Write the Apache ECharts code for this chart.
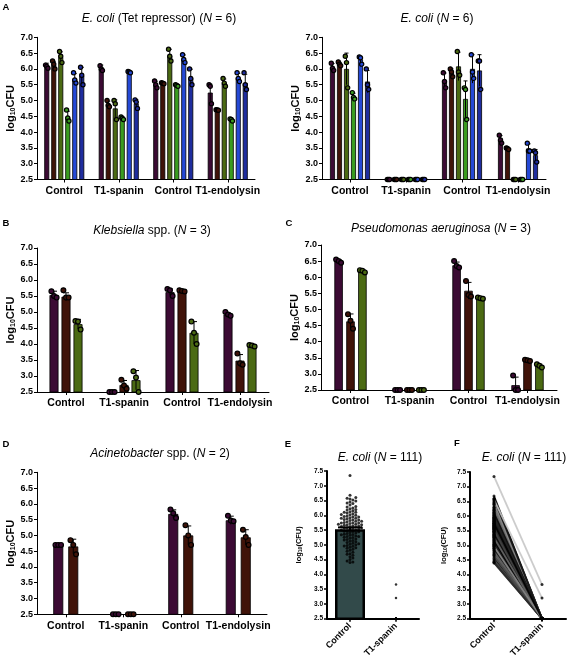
<!DOCTYPE html>
<html><head><meta charset="utf-8">
<script src="https://cdn.jsdelivr.net/npm/echarts@6/dist/echarts.min.js"></script>
<style>html,body{margin:0;padding:0;background:#fff}#c{width:571px;height:660px}</style>
</head><body><div id="c"></div><script>
// ---------------- DATA ----------------
const categories = ['Control', 'T1-spanin', 'Control', 'T1-endolysin'];
const ecoliCategories = ['Control', 'T1-spanin'];

// Panel A (left): E. coli (Tet repressor), 6 strains x 4 groups
const aTetMeans = [
  [6.10, 6.02, 5.50, 5.25],
  [6.12, 4.88, 5.55, 4.70],
  [6.37, 4.75, 6.42, 5.55],
  [4.48, 4.44, 5.48, 4.40],
  [5.68, 5.90, 6.30, 5.72],
  [5.78, 4.90, 5.72, 5.55]
];
const aTetSD = [
  [0.08, 0.10, 0.11, 0.27],
  [0.12, 0.10, 0.02, 0.02],
  [0.17, 0.27, 0.20, 0.13],
  [0.18, 0.04, 0.03, 0.04],
  [0.17, 0.03, 0.14, 0.14],
  [0.27, 0.13, 0.27, 0.28]
];
const aTetReps = [
  [[6.12, 6.08, 6.02], [6.10, 6.00, 5.95], [5.62, 5.50, 5.40], [5.50, 5.45, 4.90]],
  [[6.25, 6.15, 6.00], [5.00, 4.85, 4.80], [5.56, 5.55, 5.53], [4.71, 4.70, 4.69]],
  [[6.55, 6.40, 6.20], [5.00, 4.90, 4.40], [6.62, 6.40, 6.25], [5.70, 5.55, 5.45]],
  [[4.70, 4.45, 4.35], [4.48, 4.44, 4.40], [5.50, 5.48, 5.45], [4.42, 4.40, 4.35]],
  [[5.88, 5.65, 5.55], [5.92, 5.90, 5.88], [6.45, 6.30, 6.20], [5.88, 5.70, 5.60]],
  [[6.05, 5.80, 5.50], [5.02, 4.95, 4.75], [6.00, 5.70, 5.50], [5.88, 5.50, 5.35]]
];

// Panel A (right): E. coli, 6 strains
const aEcoMeans = [
  [6.05, 2.5, 5.62, 3.76],
  [6.15, 2.5, 5.88, 3.48],
  [6.00, 2.5, 6.08, 2.5],
  [5.13, 2.5, 5.05, 2.5],
  [6.30, 2.5, 6.00, 3.48],
  [5.60, 2.5, 5.95, 3.27]
];
const aEcoSD = [
  [0.12, 0, 0.25, 0.13],
  [0.06, 0, 0.12, 0.03],
  [0.50, 0, 0.45, 0],
  [0.10, 0, 0.57, 0],
  [0.10, 0, 0.45, 0.15],
  [0.35, 0, 0.50, 0.18]
];
const aEcoReps = [
  [[6.18, 6.02, 5.95], [2.5, 2.5, 2.5], [5.88, 5.60, 5.40], [3.90, 3.75, 3.65]],
  [[6.22, 6.15, 6.10], [2.5, 2.5, 2.5], [6.00, 5.90, 5.75], [3.50, 3.48, 3.45]],
  [[6.40, 6.20, 5.40], [2.5, 2.5, 2.5], [6.55, 5.90, 5.80], [2.5, 2.5, 2.5]],
  [[5.25, 5.10, 5.05], [2.5, 2.5, 2.5], [5.40, 5.35, 4.40], [2.5, 2.5, 2.5]],
  [[6.38, 6.35, 6.15], [2.5, 2.5, 2.5], [6.45, 5.90, 5.70], [3.65, 3.40, 3.40]],
  [[6.00, 5.50, 5.35], [2.5, 2.5, 2.5], [6.25, 6.25, 5.35], [3.40, 3.35, 3.05]]
];

// Panel B: Klebsiella spp.
const klebMeans = [
  [5.53, 2.5, 5.62, 4.92],
  [5.48, 2.72, 5.66, 3.48],
  [4.62, 2.87, 4.35, 3.95]
];
const klebSD = [
  [0.12, 0, 0.10, 0.05],
  [0.12, 0.14, 0.02, 0.19],
  [0.15, 0.30, 0.35, 0.03]
];
const klebReps = [
  [[5.65, 5.50, 5.45], [2.5, 2.5, 2.5], [5.72, 5.68, 5.50], [5.00, 4.92, 4.88]],
  [[5.68, 5.45, 5.45], [2.88, 2.70, 2.60], [5.68, 5.66, 5.64], [3.70, 3.40, 3.35]],
  [[4.72, 4.70, 4.45], [3.15, 2.95, 2.50], [4.70, 4.35, 4.00], [3.97, 3.95, 3.92]]
];

// Panel C: Pseudomonas aeruginosa
const pseudoMeans = [
  [6.50, 2.5, 6.37, 2.65],
  [4.63, 2.5, 5.58, 3.42],
  [6.20, 2.5, 5.35, 3.25]
];
const pseudoSD = [
  [0.05, 0, 0.10, 0.25],
  [0.23, 0, 0.26, 0.02],
  [0.04, 0, 0.02, 0.05]
];
const pseudoReps = [
  [[6.55, 6.50, 6.45], [2.5, 2.5, 2.5], [6.50, 6.35, 6.30], [2.95, 2.50, 2.50]],
  [[4.85, 4.65, 4.40], [2.5, 2.5, 2.5], [5.88, 5.45, 5.40], [3.44, 3.42, 3.40]],
  [[6.22, 6.20, 6.15], [2.5, 2.5, 2.5], [5.37, 5.35, 5.33], [3.30, 3.25, 3.20]]
];

// Panel D: Acinetobacter spp.
const acinMeans = [
  [4.70, 2.5, 5.68, 5.48],
  [4.65, 2.5, 5.00, 4.94]
];
const acinSD = [
  [0.01, 0, 0.13, 0.13],
  [0.23, 0, 0.30, 0.24]
];
const acinReps = [
  [[4.70, 4.70, 4.70], [2.5, 2.5, 2.5], [5.82, 5.70, 5.55], [5.62, 5.47, 5.45]],
  [[4.85, 4.70, 4.40], [2.5, 2.5, 2.5], [5.32, 5.00, 4.70], [5.18, 4.95, 4.70]]
];

// Panels E/F: E. coli isolates (N = 111), paired control / T1-spanin
const eControl = [
  5.62, 4.95, 6.10, 5.35, 7.35, 5.80, 4.70, 5.50, 6.25, 5.05,
  5.72, 5.28, 4.45, 6.02, 5.90, 5.15, 6.40, 5.55, 4.88, 5.68,
  5.40, 6.55, 5.85, 5.00, 6.18, 5.45, 4.60, 5.75, 5.95, 5.22,
  6.68, 5.58, 4.82, 5.30, 6.05, 5.65, 5.12, 5.88, 4.40, 5.48,
  6.30, 5.78, 5.18, 4.92, 5.60, 6.12, 5.38, 4.75, 5.82, 6.48,
  5.25, 5.52, 6.00, 4.55, 5.70, 5.92, 5.08, 6.35, 5.42, 4.98,
  5.62, 6.20, 5.32, 4.85, 5.76, 6.58, 5.02, 5.56, 5.98, 4.68,
  5.46, 6.08, 5.86, 5.20, 4.50, 5.66, 6.42, 5.36, 5.10, 5.74,
  6.15, 4.90, 5.54, 5.94, 6.52, 5.28, 4.78, 5.84, 5.64, 6.28,
  5.44, 5.04, 6.03, 5.70, 4.65, 5.90, 6.22, 5.34, 5.58, 6.45,
  5.16, 5.80, 4.42, 6.10, 5.50, 5.96, 5.26, 6.60, 5.68, 4.96,
  5.74
];
const eSpanin = [
  2.5, 2.5, 2.5, 2.5, 3.66, 2.5, 2.5, 2.5, 2.5, 2.5,
  2.5, 2.5, 2.5, 2.5, 2.5, 2.5, 2.5, 2.5, 2.5, 2.5,
  2.5, 3.20, 2.5, 2.5, 2.5, 2.5, 2.5, 2.5, 2.5, 2.5,
  2.5, 2.5, 2.5, 2.5, 2.5, 2.5, 2.5, 2.5, 2.5, 2.5,
  2.5, 2.5, 2.5, 2.5, 2.5, 2.5, 2.5, 2.5, 2.5, 2.5,
  2.5, 2.5, 2.5, 2.5, 2.5, 2.5, 2.5, 2.5, 2.5, 2.5,
  2.5, 2.5, 2.5, 2.5, 2.5, 2.5, 2.5, 2.5, 2.5, 2.5,
  2.5, 2.5, 2.5, 2.5, 2.5, 2.5, 2.5, 2.5, 2.5, 2.5,
  2.5, 2.5, 2.5, 2.5, 2.5, 2.5, 2.5, 2.5, 2.5, 2.5,
  2.5, 2.5, 2.5, 2.5, 2.5, 2.5, 2.5, 2.5, 2.5, 2.5,
  2.5, 2.5, 2.5, 2.5, 2.5, 2.5, 2.5, 2.5, 2.5, 2.5,
  2.5
];
const eBarMeans = [5.53, 2.52];
const eBarSEM = [0.06, 0];

// ---------------- STYLE / LAYOUT ----------------
const FONT = '"Liberation Sans", Arial, sans-serif';
const strainColors = ['#3c0b34', '#401309', '#4b6a13', '#3a9c20', '#2549d6', '#1f2d9e'];

const panels = [
  {means: aTetMeans, sds: aTetSD, reps: aTetReps, grid: {left: 37, top: 37.3, width: 218, height: 142.2}, barW: 5, gap: 2, dotR: 2.1, dotDx: 1.2, capW: 4, nameGap: 20},
  {means: aEcoMeans, sds: aEcoSD, reps: aEcoReps, grid: {left: 322, top: 37.3, width: 224, height: 142.2}, barW: 5, gap: 2, dotR: 2.1, dotDx: 1.2, capW: 4, nameGap: 20},
  {means: klebMeans, sds: klebSD, reps: klebReps, grid: {left: 37, top: 248, width: 232, height: 144}, barW: 9, gap: 3, dotR: 2.4, dotDx: 2.6, capW: 6, nameGap: 20},
  {means: pseudoMeans, sds: pseudoSD, reps: pseudoReps, grid: {left: 321, top: 245, width: 236, height: 145}, barW: 8.5, gap: 3.4, dotR: 2.4, dotDx: 2.5, capW: 6, nameGap: 20},
  {means: acinMeans, sds: acinSD, reps: acinReps, grid: {left: 37, top: 472.3, width: 230, height: 142}, barW: 10, gap: 5, dotR: 2.4, dotDx: 2.8, capW: 6, nameGap: 20}
];

const grids = [], xAxes = [], yAxes = [], series = [];

const logName = '{b|log}{s|10}{b|CFU}';
function yAxisAD(gi, nameGap) {
  return {
    gridIndex: gi, type: 'value', min: 2.5, max: 7, interval: 0.5,
    axisLine: {show: true, lineStyle: {color: '#000', width: 1}},
    axisTick: {show: true, length: 3, lineStyle: {color: '#000', width: 1}},
    splitLine: {show: false},
    axisLabel: {formatter: v => v.toFixed(1), fontSize: 9, fontWeight: 'bold', color: '#000', margin: 4, fontFamily: FONT},
    name: logName, nameLocation: 'middle', nameGap: nameGap, nameRotate: 90,
    nameTextStyle: {rich: {
      b: {fontSize: 11, fontWeight: 'bold', color: '#000', fontFamily: FONT, lineHeight: 13, verticalAlign: 'bottom'},
      s: {fontSize: 7, fontWeight: 'bold', color: '#000', fontFamily: FONT, lineHeight: 6, verticalAlign: 'bottom'}
    }}
  };
}
function xAxisCat(gi, data, extra) {
  return Object.assign({
    gridIndex: gi, type: 'category', data: data,
    axisLine: {show: true, lineStyle: {color: '#000', width: 1}},
    axisTick: {show: true, alignWithLabel: true, length: 3, lineStyle: {color: '#000'}},
    axisLabel: {interval: 0, fontSize: 10.5, fontWeight: 'bold', color: '#000', margin: 6, fontFamily: FONT},
    splitLine: {show: false}
  }, extra || {});
}

function errDots(gi, color, means, sds, reps, offset, capW, dotR, dotDx) {
  const data = means.map((m, i) => [i, m, sds[i]].concat(reps[i]));
  return {
    type: 'custom', xAxisIndex: gi, yAxisIndex: gi, z: 5, clip: false, silent: true, data: data,
    renderItem(params, api) {
      const i = api.value(0), m = api.value(1), sd = api.value(2);
      const c = api.coord([i, m]);
      const x = c[0] + offset;
      const ch = [];
      if (sd > 0) {
        const yT = api.coord([i, m + sd])[1];
        const yB = api.coord([i, Math.max(2.5, m - sd)])[1];
        ch.push({type: 'line', shape: {x1: x, y1: yT, x2: x, y2: yB}, style: {stroke: '#000', lineWidth: 1}});
        ch.push({type: 'line', shape: {x1: x - capW / 2, y1: yT, x2: x + capW / 2, y2: yT}, style: {stroke: '#000', lineWidth: 1}});
      }
      for (let r = 0; r < 3; r++) {
        const p = api.coord([i, api.value(3 + r)]);
        ch.push({type: 'circle', shape: {cx: x + (r - 1) * dotDx, cy: p[1], r: dotR}, style: {fill: color, stroke: '#000', lineWidth: 1.2}});
      }
      return {type: 'group', children: ch};
    }
  };
}

panels.forEach((p, gi) => {
  grids.push(p.grid);
  xAxes.push(xAxisCat(gi, categories));
  yAxes.push(yAxisAD(gi, p.nameGap));
  const n = p.means.length;
  p.means.forEach((m, k) => {
    series.push({
      type: 'bar', xAxisIndex: gi, yAxisIndex: gi, data: m, barWidth: p.barW,
      barGap: (p.gap / p.barW * 100) + '%', silent: true, z: 2,
      itemStyle: {color: strainColors[k], borderColor: '#000', borderWidth: 0.8}
    });
  });
  p.means.forEach((m, k) => {
    const off = (k - (n - 1) / 2) * (p.barW + p.gap);
    series.push(errDots(gi, strainColors[k], m, p.sds[k], p.reps[k], off, p.capW, p.dotR, p.dotDx));
  });
});

// ---- Panel E ----
const EI = 5, FI = 6;
const smallName = '{b|log}{s|10}{b|(CFU)}';
function yAxisEF(gi, nameGap) {
  return {
    gridIndex: gi, type: 'value', min: 2.5, max: 7.5, interval: 0.5,
    axisLine: {show: true, lineStyle: {color: '#000', width: 2}},
    axisTick: {show: true, length: 3, lineStyle: {color: '#000', width: 1.5}},
    splitLine: {show: false},
    axisLabel: {formatter: v => v.toFixed(1), fontSize: 6.5, fontWeight: 'bold', color: '#000', margin: 4, fontFamily: FONT},
    name: smallName, nameLocation: 'middle', nameGap: nameGap, nameRotate: 90,
    nameTextStyle: {rich: {
      b: {fontSize: 7.5, fontWeight: 'bold', color: '#000', fontFamily: FONT, lineHeight: 9, verticalAlign: 'bottom'},
      s: {fontSize: 5, fontWeight: 'bold', color: '#000', fontFamily: FONT, lineHeight: 4, verticalAlign: 'bottom'}
    }}
  };
}
const efX = {
  axisLine: {show: true, lineStyle: {color: '#000', width: 2}},
  axisTick: {show: true, alignWithLabel: true, length: 3, lineStyle: {color: '#000', width: 1.5}},
  axisLabel: {interval: 0, rotate: 45, fontSize: 9, fontWeight: 'bold', color: '#000', margin: 6, fontFamily: FONT}
};
grids.push({left: 327, top: 471, width: 92, height: 149});
xAxes.push(xAxisCat(EI, ecoliCategories, efX));
yAxes.push(yAxisEF(EI, 24));
grids.push({left: 470, top: 472, width: 96, height: 147});
xAxes.push(xAxisCat(FI, ecoliCategories, efX));
yAxes.push(yAxisEF(FI, 22));

series.push({
  type: 'bar', xAxisIndex: EI, yAxisIndex: EI, data: eBarMeans, barWidth: 30, silent: true, z: 2,
  itemStyle: {color: '#324a4a', borderColor: '#000', borderWidth: 2.5}
});
series.push({
  type: 'custom', xAxisIndex: EI, yAxisIndex: EI, z: 4, silent: true,
  data: eBarMeans.map((m, i) => [i, m, eBarSEM[i]]),
  renderItem(params, api) {
    const i = api.value(0), m = api.value(1), s = api.value(2);
    if (!(s > 0)) return null;
    const x = api.coord([i, m])[0];
    const yT = api.coord([i, m + s])[1], yB = api.coord([i, m - s])[1];
    return {type: 'group', children: [
      {type: 'line', shape: {x1: x, y1: yT, x2: x, y2: yB}, style: {stroke: '#000', lineWidth: 2}},
      {type: 'line', shape: {x1: x - 12, y1: yT, x2: x + 12, y2: yT}, style: {stroke: '#000', lineWidth: 2}}
    ]};
  }
});
// beeswarm offsets (layout only)
function swarm(values, pxPerUnit, dot) {
  const order = values.map((v, i) => i).sort((a, b) => values[a] - values[b]);
  const placed = [];
  const off = new Array(values.length).fill(0);
  for (const i of order) {
    const y = values[i] * pxPerUnit;
    let k = 0, x = 0;
    while (true) {
      x = k === 0 ? 0 : ((k % 2 ? 1 : -1) * Math.ceil(k / 2) * dot * 0.5);
      if (!placed.some(p => Math.hypot(p.x - x, p.y - y) < dot)) break;
      k++;
    }
    placed.push({x, y});
    off[i] = x;
  }
  return off;
}
const ctrlOff = swarm(eControl, 149 / 5, 2.9);
series.push({
  type: 'scatter', xAxisIndex: EI, yAxisIndex: EI, z: 6, silent: true, symbolSize: 3,
  itemStyle: {color: '#000'},
  data: eControl.map((v, i) => ({value: [0, v], symbolOffset: [ctrlOff[i], 0]}))
});
series.push({
  type: 'scatter', xAxisIndex: EI, yAxisIndex: EI, z: 6, silent: true, symbolSize: 2.5, clip: true,
  itemStyle: {color: '#000'},
  data: eSpanin.map(v => [1, v])
});

// ---- Panel F ----
const linePalette = ['#000000', '#1a1a1a', '#2a2a2a', '#0d0d0d', '#444444', '#222222', '#666666', '#111111', '#333333', '#8a8a8a'];
function pairLines(z, pick) {
  const data = [];
  eControl.forEach((c, i) => { if (pick(i)) data.push([c, eSpanin[i], i]); });
  return {
    type: 'custom', xAxisIndex: FI, yAxisIndex: FI, z: z, silent: true, data: data,
    renderItem(params, api) {
      const a = api.coord([0, api.value(0)]), b = api.coord([1, api.value(1)]);
      const idx = api.value(2);
      const col = eSpanin[idx] > 2.5 ? '#c6c6c6' : linePalette[idx % linePalette.length];
      return {type: 'line', shape: {x1: a[0], y1: a[1], x2: b[0], y2: b[1]}, style: {stroke: col, lineWidth: 1.8, opacity: 0.9}};
    }
  };
}
series.push(pairLines(3, i => eSpanin[i] <= 2.5));
series.push(pairLines(4, i => eSpanin[i] > 2.5));
series.push({
  type: 'scatter', xAxisIndex: FI, yAxisIndex: FI, z: 6, silent: true, symbolSize: 3,
  itemStyle: {color: '#000'},
  data: eControl.map(v => [0, v]).concat(eSpanin.map(v => [1, v]))
});

// ---- Text (titles, panel letters) ----
function txt(x, y, text, size, weight, rich) {
  return {type: 'text', x: x, y: y, silent: true, z: 10, style: {
    text: text, fontSize: size, fontWeight: weight || 'normal', fontFamily: FONT, fill: '#000',
    align: 'center', verticalAlign: 'middle', textAlign: 'center', textVerticalAlign: 'middle',
    rich: rich || {}
  }};
}
const ital = {i: {fontStyle: 'italic', fontSize: 12, fontFamily: FONT, fill: '#000'}};
const graphics = [
  txt(6, 7, 'A', 9.5, 'bold'),
  txt(159, 18.5, '{i|E. coli} (Tet repressor) ({i|N} = 6)', 12, 'normal', ital),
  txt(437, 18.5, '{i|E. coli} ({i|N} = 6)', 12, 'normal', ital),
  txt(6, 223, 'B', 9.5, 'bold'),
  txt(152, 231, '{i|Klebsiella} spp. ({i|N} = 3)', 12, 'normal', ital),
  txt(289, 223, 'C', 9.5, 'bold'),
  txt(441, 229, '{i|Pseudomonas aeruginosa} ({i|N} = 3)', 12, 'normal', ital),
  txt(6, 444, 'D', 9.5, 'bold'),
  txt(160, 454, '{i|Acinetobacter} spp. ({i|N} = 2)', 12, 'normal', ital),
  txt(288, 444, 'E', 9.5, 'bold'),
  txt(380, 457.5, '{i|E. coli} ({i|N} = 111)', 12, 'normal', ital),
  txt(457, 443, 'F', 9.5, 'bold'),
  txt(524, 457.5, '{i|E. coli} ({i|N} = 111)', 12, 'normal', ital)
];

const chart = echarts.init(document.getElementById('c'), null, {renderer: 'canvas'});
chart.setOption({
  animation: false,
  backgroundColor: '#fff',
  textStyle: {fontFamily: FONT},
  grid: grids, xAxis: xAxes, yAxis: yAxes, series: series, graphic: graphics
});
</script></body></html>
